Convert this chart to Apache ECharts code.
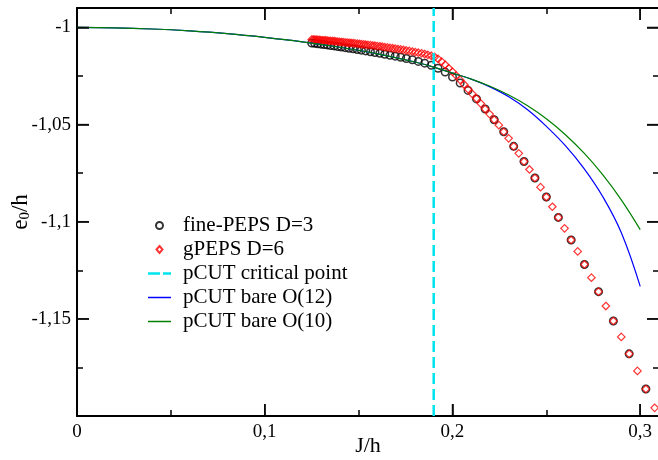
<!DOCTYPE html>
<html>
<head>
<meta charset="utf-8">
<script src="https://cdn.jsdelivr.net/npm/echarts@6/dist/echarts.min.js"></script>
<style>
  html, body { margin: 0; padding: 0; background: #fff; }
  #main { width: 658px; height: 460px; }
</style>
</head>
<body>
<div id="main"></div>
<script>
// fine-PEPS D=3 (J/h, e0/h)
var fineJ = [0.1250,0.1266,0.1282,0.1299,0.1316,0.1333,0.1351,0.1370,0.1389,0.1408,
  0.1429,0.1449,0.1471,0.1493,0.1515,0.1538,0.1563,0.1587,0.1613,0.1639,
  0.1667,0.1695,0.1724,0.1754,0.1786,0.1818,0.1852,0.1887,0.1923,0.1961,
  0.2000,0.2041,0.2083,0.2128,0.2174,0.2222,0.2273,0.2326,0.2381,0.2439,
  0.2500,0.2564,0.2632,0.2703,0.2778,0.2857,0.2941,0.3030];
var fineE = [-1.0080,-1.0082,-1.0084,-1.0086,-1.0088,-1.0090,-1.0093,-1.0095,-1.0098,-1.0101,
  -1.0104,-1.0107,-1.0110,-1.0114,-1.0117,-1.0121,-1.0125,-1.0129,-1.0133,-1.0138,
  -1.0143,-1.0148,-1.0154,-1.0160,-1.0167,-1.0175,-1.0184,-1.0195,-1.0210,-1.0230,
  -1.0255,-1.0286,-1.0324,-1.0368,-1.0420,-1.0475,-1.0537,-1.0612,-1.0690,-1.0775,
  -1.0873,-1.0978,-1.1094,-1.1220,-1.1360,-1.1511,-1.1680,-1.1861];

// gPEPS D=6
var gpepsJ = [0.1250,0.1258,0.1266,0.1274,0.1282,0.1290,0.1299,0.1307,0.1316,0.1325,
  0.1333,0.1342,0.1351,0.1361,0.1370,0.1379,0.1389,0.1399,0.1408,0.1418,
  0.1429,0.1439,0.1449,0.1460,0.1471,0.1481,0.1493,0.1504,0.1515,0.1527,
  0.1538,0.1550,0.1563,0.1575,0.1587,0.1600,0.1613,0.1626,0.1639,0.1653,
  0.1667,0.1681,0.1695,0.1709,0.1724,0.1739,0.1754,0.1770,0.1786,0.1802,
  0.1818,0.1835,0.1852,0.1869,0.1887,0.1905,0.1923,0.1942,0.1961,0.1980,
  0.2000,0.2020,0.2041,0.2062,0.2083,0.2105,0.2128,0.2151,0.2174,0.2198,
  0.2222,0.2247,0.2273,0.2299,0.2326,0.2353,0.2381,0.2410,0.2439,0.2469,
  0.2500,0.2532,0.2564,0.2597,0.2632,0.2667,0.2703,0.2740,0.2778,0.2817,
  0.2857,0.2899,0.2941,0.2985,0.3030,0.3077];
var gpepsE = [-1.0062,-1.0062,-1.0063,-1.0063,-1.0064,-1.0064,-1.0065,-1.0066,-1.0066,-1.0067,
  -1.0068,-1.0069,-1.0069,-1.0070,-1.0071,-1.0072,-1.0073,-1.0074,-1.0075,-1.0076,
  -1.0077,-1.0078,-1.0079,-1.0080,-1.0081,-1.0082,-1.0083,-1.0085,-1.0086,-1.0087,
  -1.0089,-1.0090,-1.0091,-1.0093,-1.0094,-1.0096,-1.0097,-1.0099,-1.0101,-1.0103,
  -1.0105,-1.0107,-1.0109,-1.0111,-1.0113,-1.0116,-1.0118,-1.0121,-1.0124,-1.0127,
  -1.0130,-1.0133,-1.0137,-1.0141,-1.0146,-1.0152,-1.0162,-1.0176,-1.0192,-1.0210,
  -1.0228,-1.0248,-1.0270,-1.0294,-1.0318,-1.0342,-1.0366,-1.0392,-1.0420,-1.0446,
  -1.0475,-1.0503,-1.0537,-1.0571,-1.0612,-1.0648,-1.0690,-1.0731,-1.0775,-1.0822,
  -1.0873,-1.0923,-1.0978,-1.1034,-1.1094,-1.1153,-1.1220,-1.1288,-1.1360,-1.1434,
  -1.1511,-1.1593,-1.1680,-1.1768,-1.1861,-1.1958];

// pCUT series
var pcutJ = [0,0.02,0.04,0.06,0.08,0.10,0.12,0.14,0.16,0.18,0.19,0.20,
  0.21,0.22,0.23,0.24,0.25,0.26,0.27,0.28,0.29,0.30];
var pcut12 = [-1.0000,-1.0002,-1.0008,-1.0018,-1.0032,-1.0051,-1.0074,-1.0102,-1.0136,-1.0178,-1.0204,-1.0235,
  -1.0266,-1.0306,-1.0357,-1.0424,-1.0509,-1.0607,-1.0725,-1.0870,-1.1058,-1.1333];
var pcut10 = [-1.0000,-1.0002,-1.0008,-1.0018,-1.0032,-1.0051,-1.0074,-1.0102,-1.0136,-1.0178,-1.0204,-1.0235,
  -1.0266,-1.0303,-1.0348,-1.0403,-1.0470,-1.0551,-1.0646,-1.0758,-1.0889,-1.1041];

var critJ = 0.19;

var xMin = 0, xMax = 0.31, yMin = -1.2, yMax = -0.99;
var xTicks = [0, 0.1, 0.2, 0.3];
var yTicks = [-1.15, -1.1, -1.05, -1];

function zip(xs, ys) {
  return xs.map(function (x, i) { return [x, ys[i]]; });
}
function comma(v) {
  return String(Number(v.toFixed(3))).replace('.', ',');
}

var font = 'Liberation Serif';
var black = '#000';

function tick() {
  return { show: true, inside: true, length: 12, lineStyle: { color: black, width: 1.5 } };
}
function minor() {
  return { show: true, splitNumber: 2, length: 6, lineStyle: { color: black, width: 1.5 } };
}
function axLine() {
  return { show: true, onZero: false, lineStyle: { color: black, width: 2 } };
}
// major tick marks pinned on the frame, placed through the axes
function tickMarks(data, size, offset) {
  return {
    type: 'scatter', silent: true, clip: false, z: 6,
    symbol: 'rect', symbolSize: size, symbolOffset: offset,
    itemStyle: { color: black },
    data: data
  };
}

var option = {
  animation: false,
  backgroundColor: '#fff',
  grid: { left: 77, top: 8, width: 582, height: 408, outerBoundsMode: 'none', containLabel: false },
  legend: {
    orient: 'vertical',
    left: 148,
    top: 215,
    padding: 0,
    itemWidth: 23,
    itemHeight: 7,
    itemGap: 3,
    textStyle: { fontFamily: font, fontSize: 21, color: black, padding: [0, 0, 0, 7] },
    data: [
      { name: 'fine-PEPS D=3', icon: 'circle' },
      { name: 'gPEPS D=6', icon: 'path://M3,0L6,3.5L3,7L0,3.5Z' },
      { name: 'pCUT critical point', icon: 'path://M0,0h12v2.5h-12zM15,0h8v2.5h-8z' },
      { name: 'pCUT bare O(12)', icon: 'path://M0,0h23v1.5h-23z' },
      { name: 'pCUT bare O(10)', icon: 'path://M0,0h23v1.5h-23z' }
    ]
  },
  xAxis: [{
    type: 'value', min: xMin, max: xMax, interval: 0.1,
    position: 'bottom',
    axisLine: axLine(), axisTick: tick(), minorTick: minor(),
    splitLine: { show: false }, minorSplitLine: { show: false },
    axisLabel: {
      showMaxLabel: false, margin: 7, color: black, fontFamily: font, fontSize: 19,
      formatter: function (v) { return xTicks.indexOf(Number(v.toFixed(3))) >= 0 ? comma(v) : ''; }
    },
    name: 'J/h', nameLocation: 'middle', nameGap: 19, nameMoveOverlap: false,
    nameTextStyle: { fontFamily: font, fontSize: 22, color: black }
  }, {
    type: 'value', min: xMin, max: xMax, interval: 0.1,
    position: 'top',
    axisLine: axLine(), axisTick: tick(), minorTick: minor(),
    splitLine: { show: false }, axisLabel: { show: false }
  }],
  yAxis: [{
    type: 'value', min: yMin, max: yMax, interval: 0.05,
    position: 'left',
    axisLine: axLine(), axisTick: tick(), minorTick: minor(),
    splitLine: { show: false }, minorSplitLine: { show: false },
    axisLabel: {
      showMinLabel: false, showMaxLabel: false, margin: 6, color: black, fontFamily: font, fontSize: 19,
      formatter: function (v) { return yTicks.indexOf(Number(v.toFixed(3))) >= 0 ? comma(v) : ''; }
    },
    name: '{a|e}{s|0}{a|/h}', nameLocation: 'middle', nameGap: 44, nameRotate: 90, nameMoveOverlap: false,
    nameTextStyle: {
      rich: {
        a: { fontFamily: font, fontSize: 23, color: black },
        s: { fontFamily: font, fontSize: 15, color: black, verticalAlign: 'bottom', padding: [10, 0, 0, 0] }
      }
    }
  }, {
    type: 'value', min: yMin, max: yMax, interval: 0.05,
    position: 'right',
    axisLine: axLine(), axisTick: tick(), minorTick: minor(),
    splitLine: { show: false }, axisLabel: { show: false }
  }],
  series: [{
    name: 'fine-PEPS D=3',
    type: 'scatter',
    symbol: 'circle',
    symbolSize: 7.5,
    itemStyle: { color: 'rgba(0,0,0,0)', borderColor: black, borderWidth: 1.5 },
    data: zip(fineJ, fineE)
  }, {
    name: 'gPEPS D=6',
    type: 'scatter',
    symbol: 'diamond',
    symbolSize: 7.5,
    itemStyle: { color: 'rgba(0,0,0,0)', borderColor: '#ff0000', borderWidth: 1.2 },
    data: zip(gpepsJ, gpepsE)
  }, {
    name: 'pCUT critical point',
    type: 'line',
    symbol: 'none',
    color: '#00e5ee',
    itemStyle: { color: '#00e5ee' },
    lineStyle: { color: '#00e5ee', width: 2.5, type: [11, 5] },
    data: [[critJ, yMin], [critJ, yMax]]
  }, {
    name: 'pCUT bare O(12)',
    type: 'line',
    symbol: 'none',
    smooth: 0.4,
    color: '#0000ff',
    itemStyle: { color: '#0000ff' },
    lineStyle: { color: '#0000ff', width: 1.2 },
    data: zip(pcutJ, pcut12)
  }, {
    name: 'pCUT bare O(10)',
    type: 'line',
    symbol: 'none',
    smooth: 0.4,
    color: '#008000',
    itemStyle: { color: '#008000' },
    lineStyle: { color: '#008000', width: 1.2 },
    data: zip(pcutJ, pcut10)
  },
  tickMarks(xTicks.map(function (x) { return [x, yMin]; }), [1.5, 12], [0, -6]),
  tickMarks(xTicks.map(function (x) { return [x, yMax]; }), [1.5, 12], [0, 6]),
  tickMarks(yTicks.map(function (y) { return [xMin, y]; }), [12, 1.5], [6, 0]),
  tickMarks(yTicks.map(function (y) { return [xMax, y]; }), [12, 1.5], [-6, 0])
  ]
};

var chart = echarts.init(document.getElementById('main'), null, { renderer: 'canvas' });
chart.setOption(option);
</script>
</body>
</html>
